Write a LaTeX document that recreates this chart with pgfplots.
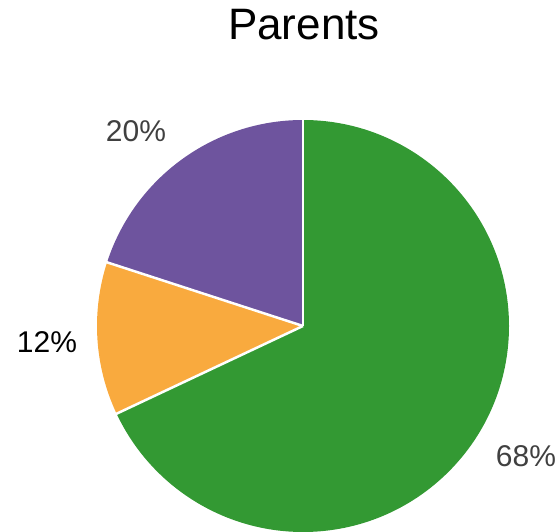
\documentclass[border=0pt]{standalone}
\usepackage{pgfplots}
\pgfplotsset{compat=1.18}
\usepackage{fontspec}
\setmainfont{Liberation Sans}
\definecolor{cgreen}{HTML}{339933}
\definecolor{corange}{HTML}{F9AA3E}
\definecolor{cpurple}{HTML}{6E549E}
\definecolor{cgray}{HTML}{404040}
\begin{document}
\begin{tikzpicture}
\begin{axis}[
  scale only axis, width=559pt, height=532pt,
  xmin=0, xmax=559, ymin=0, ymax=532,
  hide axis, clip=false]
% values (percent)
\def\vA{68}\def\vB{12}\def\vC{20}
\pgfmathsetmacro{\aA}{90}
\pgfmathsetmacro{\aB}{90-\vA*3.6}
\pgfmathsetmacro{\aC}{\aB-\vB*3.6}
\pgfmathsetmacro{\aD}{\aC-\vC*3.6}
\fill[cgreen] (axis cs:303,206) -- ++(\aA:206pt) arc[start angle=\aA, end angle=\aB, radius=206pt] -- cycle;
\fill[corange] (axis cs:303,206) -- ++(\aB:206pt) arc[start angle=\aB, end angle=\aC, radius=206pt] -- cycle;
\fill[cpurple] (axis cs:303,206) -- ++(\aC:206pt) arc[start angle=\aC, end angle=\aD, radius=206pt] -- cycle;
\draw[white, line width=2.5pt] (axis cs:303,206) -- ++(\aA:207pt);
\draw[white, line width=2.5pt] (axis cs:303,206) -- ++(\aB:207pt);
\draw[white, line width=2.5pt] (axis cs:303,206) -- ++(\aC:207pt);
\node[anchor=base, inner sep=0pt, font=\fontsize{44}{50}\selectfont] at (axis cs:304,492) {Parents};
\node[anchor=base, inner sep=0pt, text=cgray, font=\fontsize{30}{36}\selectfont] at (axis cs:136,390) {20\%};
\node[anchor=base, inner sep=0pt, text=black, font=\fontsize{30}{36}\selectfont] at (axis cs:47,179) {12\%};
\node[anchor=base, inner sep=0pt, text=cgray, font=\fontsize{30}{36}\selectfont] at (axis cs:526,65) {68\%};
\end{axis}
\pgfresetboundingbox
\path[use as bounding box] (current axis.south west) rectangle (current axis.north east);
\end{tikzpicture}
\end{document}
